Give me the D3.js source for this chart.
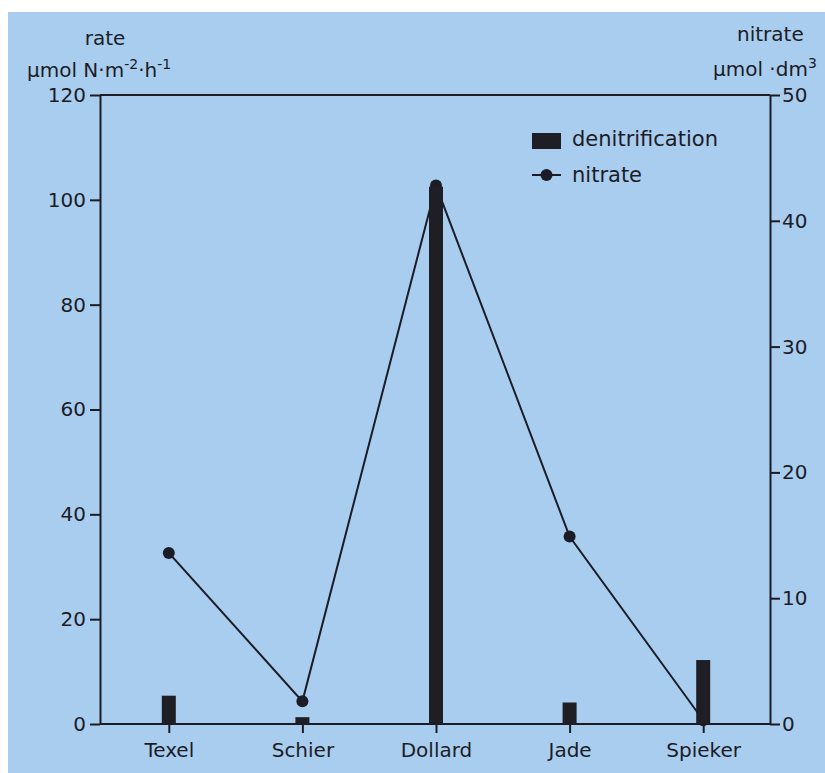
<!DOCTYPE html>
<html>
<head>
<meta charset="utf-8">
<script src="https://cdnjs.cloudflare.com/ajax/libs/d3/7.8.5/d3.min.js"></script>
<style>
  body { margin: 0; background: #fff; }
  svg text { font-family: "DejaVu Sans", sans-serif; fill: #1c1c26; }
</style>
</head>
<body>
<div id="chart"></div>
<script>
// data
const sites = ["Texel", "Schier", "Dollard", "Jade", "Spieker"];
const denitrification = [5.4, 1.3, 102.5, 4.1, 12.2];   // umol N m-2 h-1
const nitrate = [13.6, 1.8, 42.8, 14.9, 0.3];            // umol dm-3
const rateTicks = [0, 20, 40, 60, 80, 100, 120];
const nitrateTicks = [0, 10, 20, 30, 40, 50];

const W = 825, H = 773;
const plotL = 100, plotR = 770, plotT = 95, plotB = 724;
const ink = "#1c1c26";

const svg = d3.select("#chart").append("svg")
  .attr("width", W)
  .attr("height", H);

// scanned page background
svg.append("rect")
  .attr("x", 8).attr("y", 12)
  .attr("width", W - 8).attr("height", H - 12)
  .attr("fill", "#a9cdef");

const x = d3.scalePoint().domain(sites).range([plotL + 2, plotR]).padding(0.5);
const yRate = d3.scaleLinear().domain([0, 120]).range([plotB, plotT]);
const yNit = d3.scaleLinear().domain([0, 50]).range([plotB, plotT]);

// frame top line
svg.append("line")
  .attr("x1", plotL).attr("x2", plotR)
  .attr("y1", yRate(120)).attr("y2", yRate(120))
  .attr("stroke", ink).attr("stroke-width", 2);

// axes
function styleAxis(g) {
  g.selectAll("path, line").attr("stroke", ink).attr("stroke-width", 2);
  g.selectAll("text").attr("font-size", 20).attr("fill", ink)
    .attr("font-family", "DejaVu Sans, sans-serif");
}

svg.append("g")
  .attr("transform", "translate(" + plotL + ",0)")
  .call(d3.axisLeft(yRate).tickValues(rateTicks).tickSize(10).tickSizeOuter(0).tickPadding(4))
  .call(styleAxis);

svg.append("g")
  .attr("transform", "translate(" + plotR + ",0)")
  .call(d3.axisRight(yNit).tickValues(nitrateTicks).tickSize(10).tickSizeOuter(0).tickPadding(2))
  .call(styleAxis);

const xAxis = svg.append("g")
  .attr("transform", "translate(0," + plotB + ")")
  .call(d3.axisBottom(x).tickSize(9).tickSizeOuter(0).tickPadding(10))
  .call(styleAxis);
xAxis.select(".domain").attr("d", "M" + plotL + ",0H" + plotR);

// nitrate line + dots (drawn under the bars)
const line = d3.line()
  .x((d, i) => x(sites[i]))
  .y(d => yNit(d));

svg.append("path")
  .datum(nitrate)
  .attr("d", line)
  .attr("fill", "none")
  .attr("stroke", ink)
  .attr("stroke-width", 2);

svg.selectAll(".dot")
  .data(nitrate)
  .enter()
  .append("circle")
  .attr("class", "dot")
  .attr("cx", (d, i) => x(sites[i]))
  .attr("cy", d => yNit(d))
  .attr("r", 6)
  .attr("fill", ink);

// denitrification bars
const barW = 14;
svg.selectAll(".bar")
  .data(denitrification)
  .enter()
  .append("rect")
  .attr("class", "bar")
  .attr("x", (d, i) => x(sites[i]) - barW / 2)
  .attr("y", d => yRate(d))
  .attr("width", barW)
  .attr("height", d => yRate(0) - yRate(d))
  .attr("fill", "#1e1e24");

// axis titles
svg.append("text")
  .attr("x", 105).attr("y", 45)
  .attr("text-anchor", "middle")
  .attr("font-size", 20)
  .text("rate");

const rateUnit = svg.append("text")
  .attr("x", 27).attr("y", 77)
  .attr("font-size", 20);
rateUnit.append("tspan").text("\u00b5mol N\u00b7m");
rateUnit.append("tspan").attr("dy", -8).attr("font-size", 14).text("-2");
rateUnit.append("tspan").attr("dy", 8).text("\u00b7h");
rateUnit.append("tspan").attr("dy", -8).attr("font-size", 14).text("-1");

svg.append("text")
  .attr("x", 737).attr("y", 41)
  .attr("font-size", 20)
  .text("nitrate");

const nitUnit = svg.append("text")
  .attr("x", 713).attr("y", 76)
  .attr("font-size", 20);
nitUnit.append("tspan").text("\u00b5mol \u00b7dm");
nitUnit.append("tspan").attr("dy", -8).attr("font-size", 14).text("3");

// legend
const legend = svg.append("g").attr("transform", "translate(532,133)");
legend.append("rect")
  .attr("width", 29).attr("height", 16)
  .attr("fill", "#1e1e24");
legend.append("text")
  .attr("x", 40).attr("y", 13)
  .attr("font-size", 21)
  .text("denitrification");
legend.append("line")
  .attr("x1", 0).attr("x2", 29)
  .attr("y1", 42).attr("y2", 42)
  .attr("stroke", ink).attr("stroke-width", 2);
legend.append("circle")
  .attr("cx", 14.5).attr("cy", 42).attr("r", 6)
  .attr("fill", ink);
legend.append("text")
  .attr("x", 40).attr("y", 49)
  .attr("font-size", 21)
  .text("nitrate");
</script>
</body>
</html>
